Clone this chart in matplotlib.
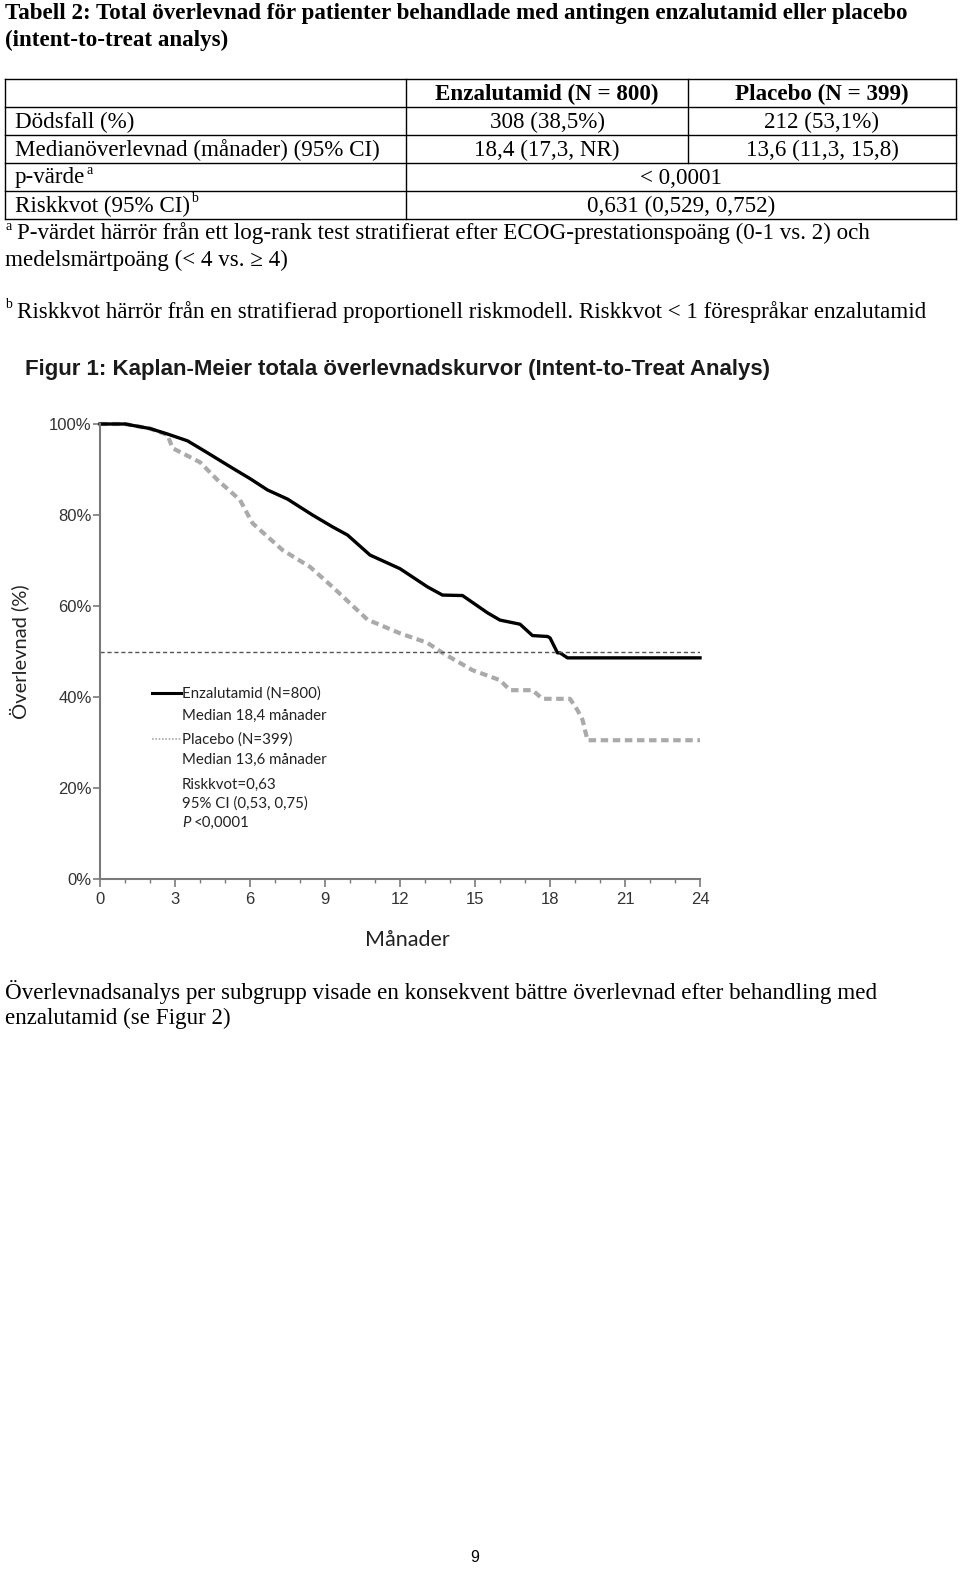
import numpy as np
import matplotlib.pyplot as plt
from matplotlib.lines import Line2D
from matplotlib.ticker import MultipleLocator

W, H = 960, 1569

# --- data -----------------------------------------------------------------
enza_months = [0, 1.0, 1.5, 2.0, 2.7, 3.5, 4.2, 5.3, 6.0, 6.7, 7.5, 8.5, 9.3, 9.9,
               10.8, 12.0, 13.1, 13.7, 14.5, 15.5, 16.0, 16.8, 17.3, 17.9, 18.0,
               18.3, 18.4, 18.7, 24]
enza_surv = [100, 100, 99.5, 99.0, 97.8, 96.3, 94.0, 90.3, 88.0, 85.5, 83.5, 80.0,
             77.4, 75.6, 71.2, 68.2, 64.2, 62.4, 62.3, 58.5, 56.9, 56.0, 53.5,
             53.3, 53.0, 49.7, 49.7, 48.6, 48.6]

plac_months = [0, 1.0, 2.0, 2.7, 2.9, 4.0, 4.7, 5.6, 6.1, 7.3, 8.4, 9.3, 10.0, 10.7,
               12.0, 13.1, 13.7, 14.9, 16.0, 16.4, 17.3, 17.7, 18.8, 19.1, 19.3,
               19.5, 24]
plac_surv = [100, 100, 99.0, 97.6, 94.7, 91.6, 87.7, 83.3, 78.2, 72.3, 68.6, 64.2,
             60.6, 57.0, 54.0, 51.9, 49.7, 45.9, 43.7, 41.5, 41.5, 39.6, 39.6,
             37.1, 35.0, 30.5, 30.5]

median_level = 50
y_ticks = [0, 20, 40, 60, 80, 100]
y_tick_labels = ['0%', '20%', '40%', '60%', '80%', '100%']
x_ticks = [0, 3, 6, 9, 12, 15, 18, 21, 24]

table_header = ['Enzalutamid (N = 800)', 'Placebo (N = 399)']
row_labels = ['Dödsfall (%)', 'Medianöverlevnad (månader) (95% CI)', 'p-värde', 'Riskkvot (95% CI)']
row_sups = ['', '', 'a', 'b']
enza_vals = ['308 (38,5%)', '18,4 (17,3, NR)']
plac_vals = ['212 (53,1%)', '13,6 (11,3, 15,8)']
shared_vals = ['< 0,0001', '0,631 (0,529, 0,752)']

legend_lines = ['Enzalutamid (N=800)', 'Median 18,4 månader', 'Placebo (N=399)',
                'Median 13,6 månader', 'Riskkvot=0,63', '95% CI (0,53, 0,75)']

SERIF = ['Liberation Serif', 'DejaVu Serif']
SANS = ['Liberation Sans', 'DejaVu Sans']
CAL = ['Lato', 'DejaVu Sans']

fig = plt.figure(figsize=(W / 100, H / 100), dpi=100)
fig.patch.set_facecolor('white')

# page layer in pixel coordinates
pg = fig.add_axes([0, 0, 1, 1], zorder=0)
pg.set_xlim(0, W)
pg.set_ylim(H, 0)
pg.axis('off')
renderer = fig.canvas.get_renderer()


def fit_text(x, y, s, width, **kw):
    # draw text and scale its size so it spans the given pixel width
    t = pg.text(x, y, s, size=10, va='center', **kw)
    w = t.get_window_extent(renderer).width
    t.set_fontsize(10 * width / w)
    return t


SUP = 10

# title
t = fit_text(5, 13, 'Tabell 2: Total överlevnad för patienter behandlade med antingen enzalutamid eller placebo',
             908, family=SERIF, weight='bold')
TSIZE = t.get_fontsize()
pg.text(5, 40, '(intent-to-treat analys)', family=SERIF, weight='bold', size=TSIZE, va='center')

# footnotes (also fix the body size)
pg.text(5, 226, 'a', family=SERIF, size=SUP, va='center')
t = fit_text(17, 233, 'P-värdet härrör från ett log-rank test stratifierat efter ECOG-prestationspoäng (0-1 vs. 2) och',
             855, family=SERIF)
BODY = t.get_fontsize()
pg.text(5, 260, 'medelsmärtpoäng (< 4 vs. ≥ 4)', family=SERIF, size=BODY, va='center')
pg.text(5, 304, 'b', family=SERIF, size=SUP, va='center')
pg.text(17, 312, 'Riskkvot härrör från en stratifierad proportionell riskmodell. Riskkvot < 1 förespråkar enzalutamid',
        family=SERIF, size=BODY, va='center')

# table grid
row_y = [79, 107, 135, 163, 191, 219]
col_x = [5, 406, 688, 956]
for y in row_y:
    pg.add_line(Line2D([col_x[0], col_x[-1]], [y, y], color='black', lw=1))
for x in [col_x[0], col_x[1], col_x[-1]]:
    pg.add_line(Line2D([x, x], [row_y[0], row_y[-1]], color='black', lw=1))
pg.add_line(Line2D([col_x[2], col_x[2]], [row_y[0], row_y[3]], color='black', lw=1))

mid = lambda i: (row_y[i] + row_y[i + 1]) / 2 + 1
c1 = (col_x[1] + col_x[2]) / 2
c2 = (col_x[2] + col_x[3]) / 2
c12 = (col_x[1] + col_x[3]) / 2

pg.text(c1, mid(0), table_header[0], family=SERIF, weight='bold', size=BODY, ha='center', va='center')
pg.text(c2, mid(0), table_header[1], family=SERIF, weight='bold', size=BODY, ha='center', va='center')

for i, (lab, sup) in enumerate(zip(row_labels, row_sups)):
    t = pg.text(15, mid(i + 1), lab, family=SERIF, size=BODY, va='center')
    if sup:
        bb = t.get_window_extent(renderer)
        pg.text(bb.x1 + 1, mid(i + 1) - 8, sup, family=SERIF, size=SUP, va='center')

for i in range(2):
    pg.text(c1, mid(i + 1), enza_vals[i], family=SERIF, size=BODY, ha='center', va='center')
    pg.text(c2, mid(i + 1), plac_vals[i], family=SERIF, size=BODY, ha='center', va='center')
    pg.text(c12, mid(i + 3), shared_vals[i], family=SERIF, size=BODY, ha='center', va='center')

# figure title
fit_text(25, 370, 'Figur 1: Kaplan-Meier totala överlevnadskurvor (Intent-to-Treat Analys)', 747,
         family=SANS, weight='bold', color='#1a1a1a')

# --- Kaplan-Meier plot ------------------------------------------------------
ax = fig.add_axes([100 / W, (H - 879) / H, 600 / W, 455 / H], zorder=1)
ax.patch.set_alpha(0)
ax.plot(plac_months, plac_surv, color='#aaaaaa', lw=3, linestyle=(0, (1.8, 1.1)),
        solid_capstyle='butt', clip_on=False)
ax.plot(enza_months, enza_surv, color='black', lw=2.4, clip_on=False)
ax.axhline(median_level, color='#555555', lw=1, linestyle=(0, (3, 2)))

ax.set_xlim(0, 24)
ax.set_ylim(0, 100)
ax.set_yticks(y_ticks)
ax.set_yticklabels(y_tick_labels)
ax.set_xticks(x_ticks)
ax.xaxis.set_minor_locator(MultipleLocator(1))
for s in ['top', 'right']:
    ax.spines[s].set_visible(False)
for s in ['left', 'bottom']:
    ax.spines[s].set_color('#7a7a7a')
    ax.spines[s].set_linewidth(1.5)
ax.tick_params(axis='y', colors='#7a7a7a', width=1.2, length=5, labelcolor='#333333',
               labelsize=12, pad=1)
ax.tick_params(axis='x', which='major', direction='out', colors='#7a7a7a', width=1.2,
               length=6, labelcolor='#333333', labelsize=12, pad=3)
ax.tick_params(axis='x', which='minor', direction='out', colors='#7a7a7a', width=1.0, length=3)
for lab in ax.get_xticklabels() + ax.get_yticklabels():
    lab.set_family(SANS)

ax.set_ylabel('Överlevnad (%)', family=CAL, size=14.5, color='#222222', labelpad=14)
ax.set_xlabel('Månader', family=CAL, size=15.5, color='#222222')
ax.xaxis.set_label_coords(0.513, -0.113)

# legend block
pg.add_line(Line2D([152, 181], [693, 693], color='black', lw=2.2, zorder=3))
pg.add_line(Line2D([152, 181], [739, 739], color='#aaaaaa', lw=1.2, linestyle=(0, (1, 1)), zorder=3))
leg_y = [694, 716, 740, 760, 785, 804]
for ty, txt in zip(leg_y, legend_lines):
    pg.text(182, ty, txt, family=CAL, size=10.8, va='center', color='#222222')
pg.text(182, 823, 'P', family=CAL, size=10.8, va='center', style='italic', color='#222222')
pg.text(194, 823, '<0,0001', family=CAL, size=10.8, va='center', color='#222222')

# closing paragraph
pg.text(5, 992, 'Överlevnadsanalys per subgrupp visade en konsekvent bättre överlevnad efter behandling med',
        family=SERIF, size=BODY, va='center')
pg.text(5, 1018, 'enzalutamid (se Figur 2)', family=SERIF, size=BODY, va='center')

pg.text(475, 1557, '9', family=SANS, size=11.5, ha='center', va='center')

fig.savefig('out.png', dpi=100)
